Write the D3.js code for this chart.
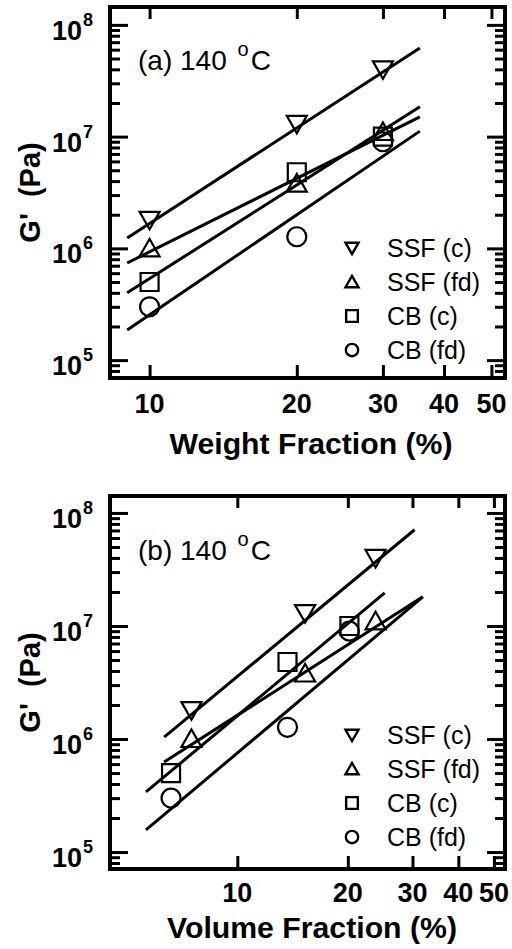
<!DOCTYPE html>
<html>
<head>
<meta charset="utf-8">
<script src="https://cdn.jsdelivr.net/npm/d3@7"></script>
<style>
  html, body { margin: 0; padding: 0; background: #fff; }
  svg { display: block; }
  text { font-family: Arial, "Liberation Sans", Helvetica, sans-serif; fill: #000; }
</style>
</head>
<body>
<svg id="chart" width="512" height="949"></svg>
<script>
// Storage modulus G' (Pa) at 140 °C against filler loading
const seriesNames = ["SSF (c)", "SSF (fd)", "CB (c)", "CB (fd)"];
const seriesSymbols = ["triangleDown", "triangleUp", "square", "circle"];

// loadings
const weightFrac = [10, 20, 30];
const volFracSSF = [7.5, 15.3, 23.8];
const volFracCB = [6.6, 13.7, 20.2];

// G' values (Pa)
const gSSFc = [1.8e6, 1.3e7, 4.0e7];
const gSSFfd = [1.0e6, 3.8e6, 1.1e7];
const gCBc = [5.0e5, 4.8e6, 1.0e7];
const gCBfd = [3.0e5, 1.27e6, 9.0e6];

// power-law fit lines, given by their end points [x0, x1] and [G0, G1]
const fitWeightX = [[9.0, 35.7], [9.0, 35.7], [9.0, 35.7], [9.0, 35.7]];
const fitWeightG = [[1.24e6, 6.2e7], [7.4e5, 1.5e7], [4.0e5, 1.85e7], [1.86e5, 1.12e7]];
const fitVolumeX = [[6.32, 30.4], [6.32, 32.0], [5.64, 25.2], [5.64, 32.0]];
const fitVolumeG = [[1.04e6, 7.1e7], [6.25e5, 1.81e7], [3.4e5, 1.96e7], [1.57e5, 1.81e7]];

// axis ticks
const xTickValues = [10, 20, 30, 40, 50];
const yDecades = [1e5, 1e6, 1e7, 1e8];
const yMinor = [];
for (let e = 4; e <= 8; e++) for (let m = 2; m <= 9; m++) yMinor.push(m * Math.pow(10, e));

const svg = d3.select("#chart");

const panels = [
  {
    frame: { left: 110, right: 505, top: 7, bottom: 378 },
    xDomain: [8.3, 53.3], yDomain: [Math.pow(10, 4.84), Math.pow(10, 8.16)],
    xs: [weightFrac, weightFrac, weightFrac, weightFrac],
    fitX: fitWeightX, fitG: fitWeightG,
    tag: "(a) 140 ", xTitle: "Weight Fraction (%)", xTitleX: 311, xTitleLen: 283,
    tagY: 70, tickLabelY: 413, titleY: 454, legendY: 248
  },
  {
    frame: { left: 110, right: 505, top: 496, bottom: 869 },
    xDomain: [4.5, 53.6], yDomain: [Math.pow(10, 4.85), Math.pow(10, 8.15)],
    xs: [volFracSSF, volFracSSF, volFracCB, volFracCB],
    fitX: fitVolumeX, fitG: fitVolumeG,
    tag: "(b) 140 ", xTitle: "Volume Fraction (%)", xTitleX: 312, xTitleLen: 290,
    tagY: 560, tickLabelY: 902, titleY: 938, legendY: 735
  }
];
const gValues = [gSSFc, gSSFfd, gCBc, gCBfd];

function markerPath(type, r) {
  const p = d3.path();
  if (type === "triangleDown") {
    p.moveTo(-r, -r * 0.8); p.lineTo(r, -r * 0.8); p.lineTo(0, r * 0.95); p.closePath();
  } else if (type === "triangleUp") {
    p.moveTo(-r, r * 0.8); p.lineTo(r, r * 0.8); p.lineTo(0, -r * 0.95); p.closePath();
  } else if (type === "square") {
    p.rect(-r * 0.9, -r * 0.9, r * 1.8, r * 1.8);
  } else {
    p.arc(0, 0, r * 0.95, 0, 2 * Math.PI);
  }
  return p.toString();
}

panels.forEach(P => {
  const f = P.frame;
  const x = d3.scaleLog().domain(P.xDomain).range([f.left, f.right]);
  const y = d3.scaleLog().domain(P.yDomain).range([f.bottom, f.top]);
  const g = svg.append("g");
  const minorInRange = yMinor.filter(v => v > P.yDomain[0] && v < P.yDomain[1]);

  // axes: ticks point inward on all four sides
  const styleAxis = sel => {
    sel.select(".domain").remove();
    sel.selectAll(".tick line").attr("stroke", "#000").attr("stroke-width", 3);
  };
  g.append("g").attr("transform", `translate(0,${f.bottom})`)
    .call(d3.axisBottom(x).tickValues(xTickValues).tickSize(-13).tickFormat(""))
    .call(styleAxis);
  g.append("g").attr("transform", `translate(0,${f.top})`)
    .call(d3.axisTop(x).tickValues(xTickValues).tickSize(-12).tickFormat(""))
    .call(styleAxis);
  g.append("g").attr("transform", `translate(${f.left},0)`)
    .call(d3.axisLeft(y).tickValues(yDecades).tickSize(-18).tickFormat(""))
    .call(styleAxis);
  g.append("g").attr("transform", `translate(${f.left},0)`)
    .call(d3.axisLeft(y).tickValues(minorInRange).tickSize(-10).tickFormat(""))
    .call(styleAxis);
  g.append("g").attr("transform", `translate(${f.right},0)`)
    .call(d3.axisRight(y).tickValues(yDecades).tickSize(-18).tickFormat(""))
    .call(styleAxis);
  g.append("g").attr("transform", `translate(${f.right},0)`)
    .call(d3.axisRight(y).tickValues(minorInRange).tickSize(-10).tickFormat(""))
    .call(styleAxis);

  // frame
  g.append("rect")
    .attr("x", f.left).attr("y", f.top)
    .attr("width", f.right - f.left).attr("height", f.bottom - f.top)
    .attr("fill", "none").attr("stroke", "#000").attr("stroke-width", 4);

  // x tick labels
  g.selectAll(".xlab").data(xTickValues).enter().append("text")
    .attr("x", d => x(d)).attr("y", P.tickLabelY)
    .attr("text-anchor", "middle")
    .style("font-size", "27px").style("font-weight", "bold")
    .text(d => d);

  // y tick labels 10^n
  yDecades.forEach(v => {
    const t = g.append("text")
      .attr("x", 93).attr("y", y(v) + 15)
      .attr("text-anchor", "end")
      .style("font-size", "27px").style("font-weight", "bold");
    t.append("tspan").text("10");
    t.append("tspan").attr("dx", 1).attr("dy", -14).style("font-size", "18px").text(Math.round(Math.log10(v)));
  });

  // axis titles
  g.append("text")
    .attr("x", P.xTitleX).attr("y", P.titleY)
    .attr("text-anchor", "middle")
    .attr("textLength", P.xTitleLen).attr("lengthAdjust", "spacingAndGlyphs")
    .style("font-size", "30px").style("font-weight", "bold")
    .text(P.xTitle);
  g.append("text")
    .attr("transform", `translate(40,${(f.top + f.bottom) / 2}) rotate(-90)`)
    .attr("text-anchor", "middle")
    .attr("xml:space", "preserve")
    .style("font-size", "29px").style("font-weight", "bold")
    .text("G'  (Pa)");

  // panel tag
  const tag = g.append("text").attr("x", 138).attr("y", P.tagY)
    .style("font-size", "28px");
  tag.append("tspan").text(P.tag);
  tag.append("tspan").attr("dx", 3).attr("dy", -14).style("font-size", "20px").text("o");
  tag.append("tspan").attr("dy", 14).attr("dx", 2).text("C");

  // fit lines
  const line = d3.line().x(d => x(d[0])).y(d => y(d[1]));
  P.fitX.forEach((fx, i) => {
    g.append("path")
      .attr("d", line([[fx[0], P.fitG[i][0]], [fx[1], P.fitG[i][1]]]))
      .attr("fill", "none").attr("stroke", "#000").attr("stroke-width", 3);
  });

  // data markers
  gValues.forEach((vals, i) => {
    g.selectAll(null).data(vals.map((v, k) => [P.xs[i][k], v])).enter().append("path")
      .attr("transform", d => `translate(${x(d[0])},${y(d[1])})`)
      .attr("d", markerPath(seriesSymbols[i], 10))
      .attr("fill", "none").attr("stroke", "#000").attr("stroke-width", 2.2);
  });

  // legend
  seriesNames.forEach((name, i) => {
    const ly = P.legendY + i * 34;
    g.append("path")
      .attr("transform", `translate(352,${ly})`)
      .attr("d", markerPath(seriesSymbols[i], 6.5))
      .attr("fill", "none").attr("stroke", "#000").attr("stroke-width", 2.4);
    g.append("text").attr("x", 387).attr("y", ly + 9)
      .style("font-size", "25px").text(name);
  });
});
</script>
</body>
</html>
